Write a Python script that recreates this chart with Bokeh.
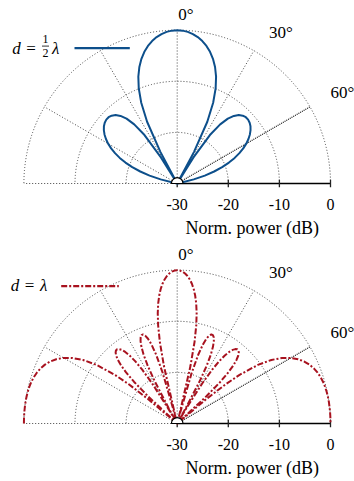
import numpy as np
from bokeh.plotting import figure
from bokeh.layouts import column
from bokeh.models import Range1d
from bokeh.core.properties import value
from bokeh.embed import file_html
from bokeh.resources import INLINE

# ---- radial scale and angular grid ----
DB_FLOOR = -30
DB_TICKS = [-30, -20, -10, 0]
DB_TICK_LABELS = ["-30", "-20", "-10", "0"]
GRID_DB = [-20, -10, 0]
SPOKE_ANGLES = [-90, -60, -30, 0, 30]
MARKED_ANGLE = [60]
ANGLE_LABELS = ["0°", "30°", "60°"]
AXIS_TITLE = "Norm. power (dB)"

# ---- patterns (symmetric about 0°, angle in degrees from broadside) ----
# element spacing d = λ/2
HALF_ANGLES = [0, 2, 4, 6, 8, 10, 12, 14, 16, 18, 20, 22, 24, 26, 28, 30,
               32, 34, 36, 38, 40, 42, 44, 46, 48, 50, 52, 54, 56, 58, 60,
               62, 64, 66, 68, 70, 72, 74, 76, 78, 80]
HALF_DB = [0.0, -0.07, -0.26, -0.60, -1.07, -1.69, -2.47, -3.44, -4.61, -6.03,
           -7.76, -9.92, -12.70, -16.56, -22.99, -30.0,
           -23.99, -18.56, -15.69, -13.90, -12.74, -11.99, -11.54, -11.33,
           -11.33, -11.49, -11.80, -12.26, -12.84, -13.56, -14.39,
           -15.36, -16.46, -17.69, -19.08, -20.64, -22.40, -24.38, -26.66,
           -29.31, -30.0]

# element spacing d = λ
FULL_ANGLES = [0, 1, 2, 3, 4, 5, 6, 7, 8, 9, 10, 11, 12, 13, 14, 14.5, 15,
               16, 17, 18, 19, 20, 21, 22, 23, 24, 25, 26, 27, 28, 29, 30,
               31, 32, 33, 34, 35, 36, 37, 38, 39, 40, 41, 42, 43, 44, 45,
               46, 47, 48, 49, 50, 51, 52, 54, 56, 58, 60, 62, 64, 66, 68,
               70, 72, 74, 76, 78, 80, 82, 84, 86, 88, 90]
FULL_DB = [0.0, -0.07, -0.26, -0.60, -1.07, -1.70, -2.50, -3.49, -4.72, -6.22,
           -8.08, -10.46, -13.66, -18.47, -28.69, -30.0, -28.39,
           -19.67, -15.93, -13.78, -12.46, -11.69, -11.34, -11.35, -11.69,
           -12.37, -13.44, -14.98, -17.20, -20.54, -26.47, -30.0,
           -26.55, -20.71, -17.44, -15.28, -13.76, -12.69, -11.96, -11.52,
           -11.32, -11.35, -11.63, -12.16, -12.99, -14.17, -15.85,
           -18.29, -22.19, -30.0, -30.0, -22.54, -17.73, -14.61, -10.48,
           -7.76, -5.80, -4.32, -3.20, -2.34, -1.67, -1.17,
           -0.80, -0.52, -0.32, -0.19, -0.10, -0.05, -0.02, -0.01, 0.0, 0.0, 0.0]

# ---- page geometry (pixels) ----
W, H = 354, 240
CX, CY = 176.7, 183.0      # pole of the polar plot
S = 153.3 / 30.0           # pixels per dB
MID = 0.34                 # baseline-to-middle offset, in em

FONT = value("Liberation Serif")
GRID_COLOR = "#444444"
BLUE = "#0d4f8b"
RED = "#a8121f"


def px(xp, yp):
    """Panel pixel position -> data coordinates."""
    return DB_FLOOR + (xp - CX) / S, (CY - yp) / S


def polar(theta_deg, radius):
    t = np.radians(np.asarray(theta_deg, dtype=float))
    r = np.asarray(radius, dtype=float)
    return DB_FLOOR + r * np.sin(t), r * np.cos(t)


def label(p, xp, base, text, size, style="normal", align="center"):
    """Text whose baseline sits at pixel row `base`."""
    x, y = px(xp, base - MID * size)
    p.text(x=[x], y=[y], text=[text], text_font=FONT,
           text_font_size=value(f"{size}px"), text_font_style=style,
           text_align=align, text_baseline="middle", text_color="black")


def panel(angles, db, color, dash, legend):
    p = figure(width=W, height=H, output_backend="svg", toolbar_location=None,
               x_range=Range1d(DB_FLOOR - CX / S, DB_FLOOR + (W - CX) / S),
               y_range=Range1d((CY - H) / S, CY / S),
               x_axis_location=None, y_axis_location=None, min_border=0)
    p.outline_line_color = None
    p.background_fill_color = "white"
    p.border_fill_color = "white"
    p.xgrid.visible = False
    p.ygrid.visible = False

    r_max = 0 - DB_FLOOR
    # dB circles
    p.arc(x=DB_FLOOR, y=0, radius=[g - DB_FLOOR for g in GRID_DB],
          start_angle=0, end_angle=np.pi, line_color=GRID_COLOR,
          line_dash="1 2", line_width=1)
    # angular spokes
    sx, sy = polar(SPOKE_ANGLES, [r_max] * len(SPOKE_ANGLES))
    p.segment(x0=[DB_FLOOR] * len(SPOKE_ANGLES), y0=[0] * len(SPOKE_ANGLES),
              x1=sx, y1=sy, line_color=GRID_COLOR, line_dash="1 2", line_width=1)
    mx, my = polar(MARKED_ANGLE, [r_max])
    p.segment(x0=[DB_FLOOR], y0=[0], x1=mx, y1=my, line_color="#111111",
              line_dash="1 1", line_width=1.2)

    # radial axis along the right baseline
    p.segment(x0=[min(DB_TICKS)], y0=[0], x1=[max(DB_TICKS)], y1=[0],
              line_color="black", line_width=1.3)
    tick = 3.7 / S
    p.segment(x0=DB_TICKS, y0=[-tick] * len(DB_TICKS), x1=DB_TICKS,
              y1=[tick] * len(DB_TICKS), line_color="#222222", line_width=1.3)
    _, ty = px(0, 209.5 - MID * 16)
    p.text(x=DB_TICKS, y=[ty] * len(DB_TICKS), text=DB_TICK_LABELS,
           text_font=FONT, text_font_size=value("16px"), text_align="center",
           text_baseline="middle", text_color="black")
    label(p, 251.7, 233.5, AXIS_TITLE, 18)

    # pattern, mirrored to both sides
    a = np.asarray(angles, dtype=float)
    d = np.asarray(db, dtype=float)
    theta = np.concatenate([-a[::-1], a[1:]])
    level = np.concatenate([d[::-1], d[1:]])
    r = np.clip(level - DB_FLOOR, 0, None)
    cx, cy = polar(theta, r)
    kw = dict(line_color=color, line_width=2, line_join="round")
    if dash:
        kw["line_dash"] = dash
    p.line(cx, cy, **kw)

    # hub at the pole
    p.wedge(x=DB_FLOOR, y=0, radius=5.8 / S, start_angle=0, end_angle=np.pi,
            fill_color="white", line_color="black", line_width=1.2)

    # angle labels
    label(p, 185.3, 19.3, ANGLE_LABELS[0], 17)
    label(p, 280.3, 37.3, ANGLE_LABELS[1], 17)
    label(p, 342.0, 98.0, ANGLE_LABELS[2], 17)

    legend(p, color, dash)
    return p


def legend_half(p, color, dash):
    label(p, 16.0, 53.3, "d", 17, style="italic")
    label(p, 30.5, 53.3, "=", 17)
    label(p, 45.0, 42.5, "1", 12)
    label(p, 45.0, 56.8, "2", 12)
    bx0, by = px(41.5, 45.6)
    bx1, _ = px(48.5, 45.6)
    p.line([bx0, bx1], [by, by], line_color="black", line_width=0.8)
    label(p, 55.3, 53.3, "λ", 17, style="italic")
    x0, y0 = px(74.0, 47.7)
    x1, _ = px(129.3, 47.7)
    p.line([x0, x1], [y0, y0], line_color=color, line_width=2.2)


def legend_full(p, color, dash):
    label(p, 14.5, 50.7, "d", 17, style="italic")
    label(p, 29.0, 50.7, "=", 17)
    label(p, 43.3, 50.7, "λ", 17, style="italic")
    x0, y0 = px(60.7, 45.7)
    x1, _ = px(118.3, 45.7)
    p.line([x0, x1], [y0, y0], line_color=color, line_width=2.2, line_dash=dash)


top = panel(HALF_ANGLES, HALF_DB, BLUE, None, legend_half)
bottom = panel(FULL_ANGLES, FULL_DB, RED, "6 2 2 2", legend_full)

layout = column(top, bottom, spacing=0)
open("out.html", "w").write(file_html(layout, INLINE))
